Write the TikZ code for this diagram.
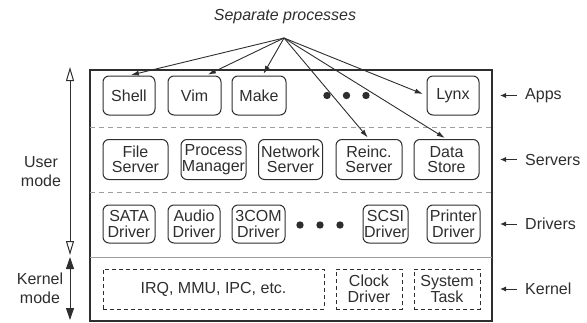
\documentclass[tikz,border=0pt]{standalone}
\usepackage{fontspec}
\setmainfont{Liberation Sans}
\usetikzlibrary{arrows.meta}

\definecolor{inkgray}{gray}{0.18}
\definecolor{sepgray}{gray}{0.62}

\tikzset{
  proc/.style={draw=inkgray, line width=1pt, rounded corners=6pt, inner sep=0pt,
    minimum height=39pt, align=center, text=inkgray, font=\fontsize{16}{15.5}\selectfont},
  kproc/.style={proc, sharp corners, dashed, dash pattern=on 4pt off 3pt, minimum height=40pt},
  lbl/.style={text=inkgray, align=center, inner sep=0pt, font=\fontsize{16}{19}\selectfont},
  pointer/.style={-{Latex[length=8pt,width=5pt]}, draw=inkgray, line width=0.9pt},
  tag/.style={-{Latex[length=6pt,width=5pt]}, draw=inkgray, line width=1pt},
}

\begin{document}
\begin{tikzpicture}[x=1pt, y=-1pt]
            \def\ya{95.5}
            \def\ys{159.5}
            \def\yd{224}
            \def\yk{289}
            \useasboundingbox (0,0) rectangle (587,322);

            % outer frame and the row separators
            \draw[inkgray, line width=1.2pt] (90,70) rectangle (492,321);
            \draw[sepgray, dashed, dash pattern=on 5pt off 4pt, line width=1pt] (90,127) -- (492,127);
            \draw[sepgray, dashed, dash pattern=on 5pt off 4pt, line width=1pt] (90,192) -- (492,192);
            \draw[sepgray, line width=1pt] (90,257) -- (492,257);

            % apps
            \node[proc, minimum width=52pt] (shell) at (129,\ya) {Shell};
            \node[proc, minimum width=53pt] (vim) at (194.5,\ya) {Vim};
            \node[proc, minimum width=54pt] (make) at (259,\ya) {Make};
            \node[proc, minimum width=52pt] (lynx) at (453,\ya) {Lynx};
            \foreach \x in {327,346.5,366}
                \fill[inkgray] (\x,\ya) circle (3.7pt);

            % servers
            \node[proc, minimum width=65pt, minimum height=40pt] (file) at (135.5,\ys) {File\\Server};
            \node[proc, minimum width=65pt, minimum height=40pt] (pm) at (213.5,\ys) {Process\\Manager};
            \node[proc, minimum width=64pt, minimum height=40pt] (net) at (290.5,\ys) {Network\\Server};
            \node[proc, minimum width=66pt, minimum height=40pt] (reinc) at (369,\ys) {Reinc.\\Server};
            \node[proc, minimum width=65pt, minimum height=40pt] (data) at (446.5,\ys) {Data\\Store};

            % drivers
            \node[proc, minimum width=52pt, minimum height=38pt] (sata) at (129,\yd) {SATA\\Driver};
            \node[proc, minimum width=52pt, minimum height=38pt] (audio) at (194,\yd) {Audio\\Driver};
            \node[proc, minimum width=53pt, minimum height=38pt] (tcom) at (258.5,\yd) {3COM\\Driver};
            \node[proc, minimum width=45pt, minimum height=38pt] (scsi) at (385.5,\yd) {SCSI\\Driver};
            \node[proc, minimum width=53pt, minimum height=38pt] (printer) at (453.5,\yd) {Printer\\Driver};
            \foreach \x in {300,320,340}
                \fill[inkgray] (\x,\yd+1) circle (3.7pt);

            % kernel
            \node[kproc, minimum width=221pt] (irq) at (213.5,\yk) {IRQ, MMU, IPC, etc.};
            \node[kproc, minimum width=66pt] (clock) at (369,\yk) {Clock\\Driver};
            \node[kproc, minimum width=66pt] (systask) at (447,\yk) {System\\Task};

            % the processes pointed at from the top
            \node[lbl, font=\fontsize{16}{16}\selectfont\itshape] (septext) at (285,17) {Separate processes};
            \coordinate (apex) at (284,38);
            \foreach \t in {shell.north, vim.60, make.80, reinc.north, data.north}
                \draw[pointer, shorten >=2pt] (apex) -- (\t);
            \draw[pointer, shorten >=4pt] (apex) -- (lynx.west);

            % layer names on the right
            \node[lbl, anchor=west] (lapps) at (525,\ya) {Apps};
            \node[lbl, anchor=west] (lservers) at (525,\ys) {Servers};
            \node[lbl, anchor=west] (ldrivers) at (525,\yd) {Drivers};
            \node[lbl, anchor=west] (lkernel) at (525,\yk) {Kernel};
            \foreach \n in {lapps, lservers, ldrivers, lkernel}
                \draw[tag] ([xshift=-8pt]\n.west) -- ([xshift=-25pt]\n.west);

            % user and kernel mode on the left
            \coordinate (utop) at (70,67);
            \coordinate (ubot) at (70,255);
            \coordinate (ktop) at (70,257);
            \coordinate (kbot) at (70,320);
            \draw[inkgray, line width=1pt, {Triangle[open,length=14pt,width=8pt]}-{Triangle[open,length=14pt,width=8pt]}] (ubot) -- (utop);
            \draw[inkgray, line width=1pt, {Triangle[length=12pt,width=8pt]}-{Triangle[length=12pt,width=8pt]}] (ktop) -- (kbot);
            \node[lbl] (umode) at (41,172) {User\\mode};
            \node[lbl] (kmode) at (40,288) {Kernel\\mode};
        \end{tikzpicture}
\end{document}
